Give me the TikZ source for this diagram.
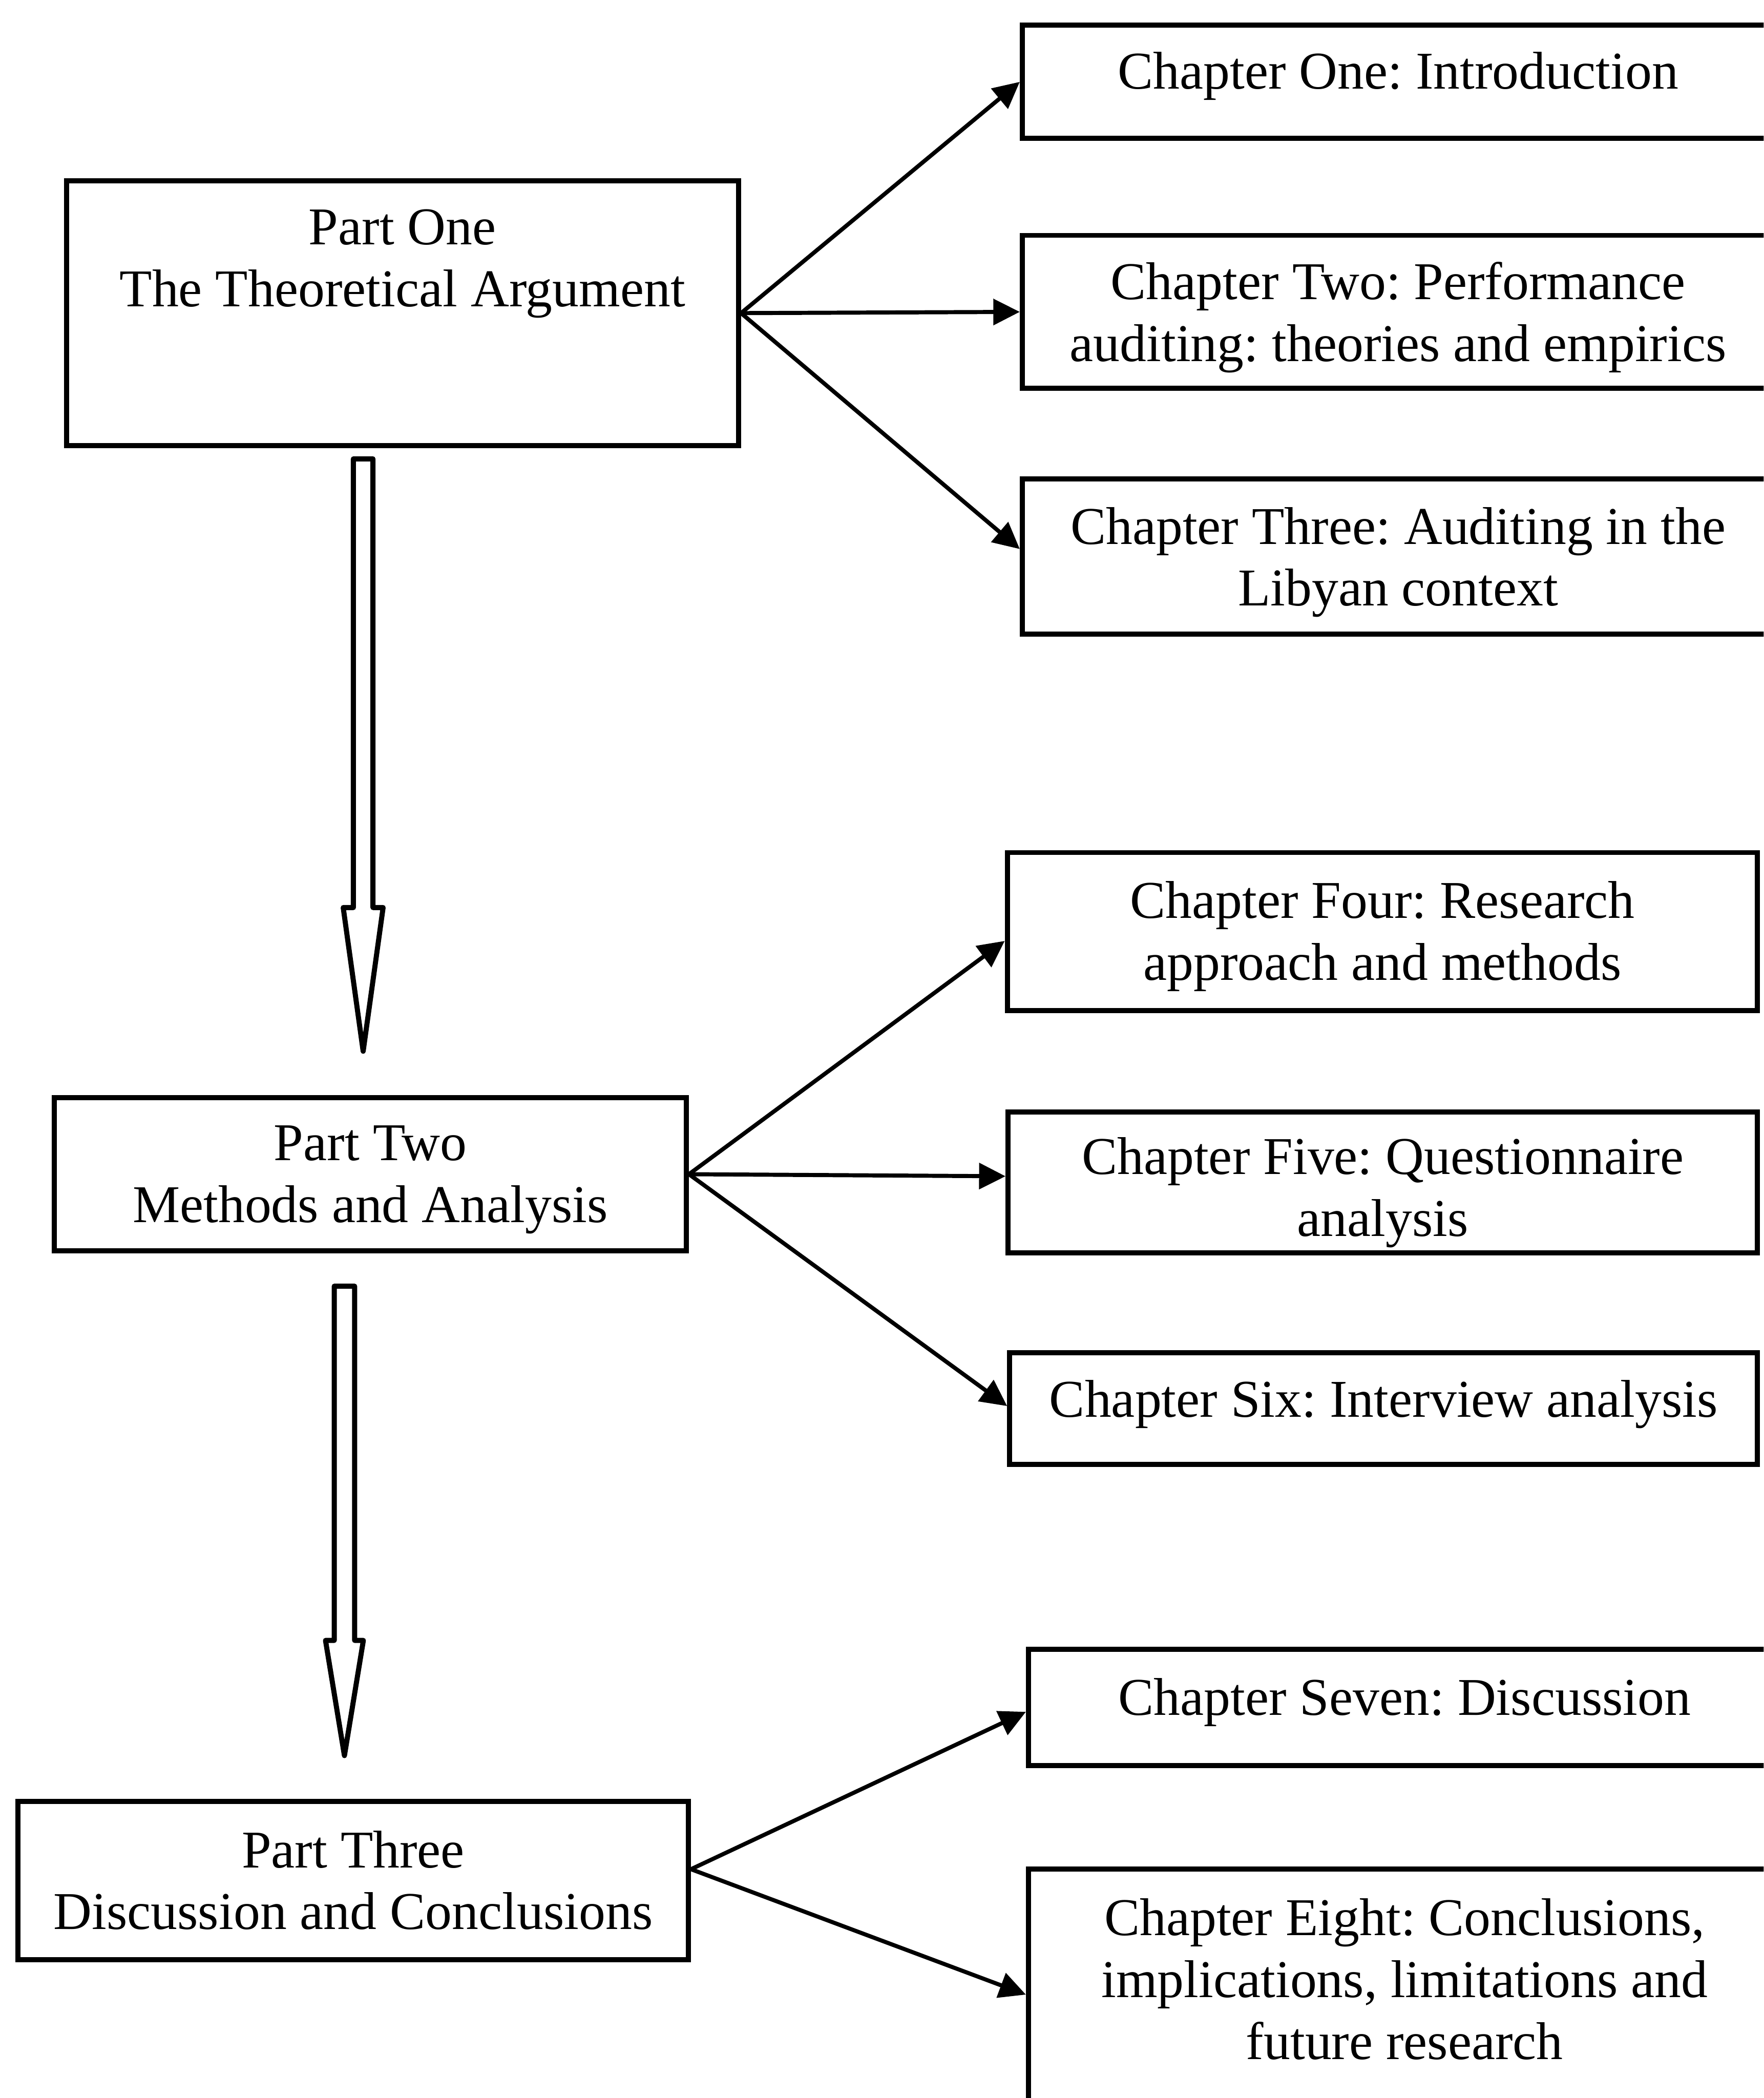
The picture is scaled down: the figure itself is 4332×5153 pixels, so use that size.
\documentclass[tikz,border=0pt]{standalone}
\usepackage{fontspec}
\setmainfont{Liberation Serif}
\usetikzlibrary{arrows.meta}
\frenchspacing

% hollow downward block arrow: centre x, top y, head base y, tip y, shaft half width, head half width
\newcommand\hollowdown[6]{%
  \draw[fat] (#1-#5,#2) -- (#1+#5,#2) -- (#1+#5,#3) -- (#1+#6,#3)
    -- (#1,#4) -- (#1-#6,#3) -- (#1-#5,#3) -- cycle;}

\begin{document}
\begin{tikzpicture}[x=0.1pt,y=-0.1pt,
  box/.style={draw, line width=1.25pt, rectangle, inner sep=0pt},
  txt/.style={anchor=base, align=center, inner sep=0pt,
    font=\fontsize{13.05pt}{15.2pt}\selectfont},
  link/.style={line width=1pt, -{Triangle[length=6.5pt,width=6.3pt]}},
  fat/.style={line width=1.25pt, line join=round}]

\useasboundingbox (0,0) rectangle (4332,5153);
\clip (0,0) rectangle (4332,5153);

% ---- parts (left column) ----
\node[box, minimum width=165.1pt, minimum height=65pt]   (p1) at (988.5,769) {};
\node[box, minimum width=155.3pt, minimum height=37.6pt] (p2) at (909.5,2884) {};
\node[box, minimum width=164.7pt, minimum height=38.8pt] (p3) at (867.5,4619) {};

% text nodes are placed by the baseline of their last line
\node[txt] (p1t) at (988.5,753)  {Part One\\The Theoretical Argument};
\node[txt] (p2t) at (909.5,3002) {Part Two\\Methods and Analysis};
\node[txt] (p3t) at (867.5,4739) {Part Three\\Discussion and Conclusions};

% ---- chapters (right column) ----
\node[box, minimum width=184.6pt, minimum height=27.8pt] (ch1) at (3434,201) {};
\node[box, minimum width=184.6pt, minimum height=37.6pt] (ch2) at (3434,766) {};
\node[box, minimum width=184.6pt, minimum height=38.1pt] (ch3) at (3434,1366.5) {};
\node[box, minimum width=184.3pt, minimum height=38.8pt] (ch4) at (3395.5,2288) {};
\node[box, minimum width=184.1pt, minimum height=34.6pt] (ch5) at (3396.5,2904) {};
\node[box, minimum width=183.7pt, minimum height=27.5pt] (ch6) at (3398.5,3459.5) {};
\node[box, minimum width=184.8pt, minimum height=28.5pt] (ch7) at (3450,4193.5) {};
\node[box, minimum width=184.8pt, minimum height=64.4pt] (ch8) at (3450,4912) {};

\node[txt] (ch1t) at (3434,218)    {Chapter One: Introduction};
\node[txt] (ch2t) at (3434,887)    {Chapter Two: Performance\\auditing: theories and empirics};
\node[txt] (ch3t) at (3434,1488)   {Chapter Three: Auditing in the\\Libyan context};
\node[txt] (ch4t) at (3395.5,2407) {Chapter Four: Research\\approach and methods};
\node[txt] (ch5t) at (3396.5,3036) {Chapter Five: Questionnaire\\analysis};
\node[txt] (ch6t) at (3398.5,3480) {Chapter Six: Interview analysis};
\node[txt] (ch7t) at (3450,4212)   {Chapter Seven: Discussion};
\node[txt] (ch8t) at (3450,5058)   {Chapter Eight: Conclusions,\\implications, limitations and\\future research};

% ---- links from parts to chapters ----
\draw[link] (p1.east) -- (ch1.west);
\draw[link] (p1.east) -- (ch2.west);
\draw[link] (p1.east) -- ([yshift=1.8pt]ch3.west);

\draw[link] (p2.east) -- ([yshift=-2.3pt]ch4.west);
\draw[link] (p2.east) -- ([yshift=1.5pt]ch5.west);
\draw[link] (p2.east) -- ([yshift=0.6pt]ch6.west);

\draw[link] ([yshift=2.8pt]p3.east) -- ([yshift=-1.1pt]ch7.west);
\draw[link] ([yshift=2.8pt]p3.east) -- ([yshift=1.3pt]ch8.west);

% ---- block arrows between parts ----
\hollowdown{892}{1127}{2229}{2582}{24}{49}
\hollowdown{846}{3159}{4029}{4312}{25}{46.5}

\end{tikzpicture}
\end{document}
